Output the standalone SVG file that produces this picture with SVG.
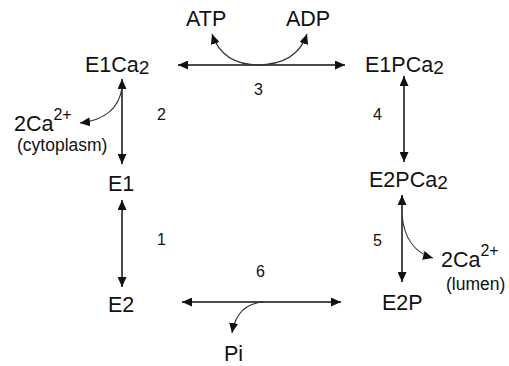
<svg xmlns="http://www.w3.org/2000/svg" width="509" height="366" viewBox="0 0 509 366">
<style>
text{font-family:"Liberation Sans",Arial,sans-serif;fill:#111}
.n{font-size:21.5px}
.sub{font-size:19px}
.sup{font-size:16px}
.lab{font-size:16px}
.sm{font-size:17.5px}
.ln{stroke:#111;stroke-width:1.5;fill:none}
.cv{stroke:#333;stroke-width:1.2;fill:none}
</style>
<defs>
<marker id="ah" markerUnits="userSpaceOnUse" markerWidth="11" markerHeight="9" refX="10" refY="4.5" orient="auto-start-reverse" viewBox="0 0 11 9">
<path d="M0,0 L10,4.5 L0,9 z" fill="#111"/>
</marker>
</defs>
<rect width="509" height="366" fill="#fff"/>
<g id="connectors">
<line class="ln" x1="178" y1="65" x2="345" y2="65" marker-start="url(#ah)" marker-end="url(#ah)"/>
<path class="cv" d="M259,65 C236,65 219,55 212,34" marker-end="url(#ah)"/>
<path class="cv" d="M257,65 C283,65 300,55 307,34" marker-end="url(#ah)"/>
<line class="ln" x1="122" y1="79" x2="122" y2="164" marker-start="url(#ah)" marker-end="url(#ah)"/>
<path class="cv" d="M122,88 C119,108 105,120 80,123" marker-end="url(#ah)"/>
<line class="ln" x1="122" y1="200" x2="122" y2="287" marker-start="url(#ah)" marker-end="url(#ah)"/>
<line class="ln" x1="404" y1="76" x2="404" y2="162" marker-start="url(#ah)" marker-end="url(#ah)"/>
<line class="ln" x1="402" y1="195" x2="402" y2="282" marker-start="url(#ah)" marker-end="url(#ah)"/>
<path class="cv" d="M402,215 C404,238 415,253 433,258" marker-end="url(#ah)"/>
<line class="ln" x1="182" y1="302" x2="341" y2="302" marker-start="url(#ah)" marker-end="url(#ah)"/>
<path class="cv" d="M264,302 C245,303 235,315 232,333" marker-end="url(#ah)"/>
</g>
<g id="E1Ca2"><text class="n" x="85" y="72">E1Ca<tspan class="sub" dy="2">2</tspan></text></g>
<g id="E1PCa2"><text class="n" x="365" y="72">E1PCa<tspan class="sub" dy="2">2</tspan></text></g>
<g id="E1"><text class="n" x="108" y="191">E1</text></g>
<g id="E2PCa2"><text class="n" x="369" y="187">E2PCa<tspan class="sub" dy="2">2</tspan></text></g>
<g id="E2"><text class="n" x="108" y="312">E2</text></g>
<g id="E2P"><text class="n" x="382" y="310">E2P</text></g>
<g id="ATP"><text class="n" x="186" y="26">ATP</text></g>
<g id="ADP"><text class="n" x="286" y="26">ADP</text></g>
<g id="Pi"><text class="n" x="224" y="361">Pi</text></g>
<g id="Ca-cyto"><text class="n" x="14" y="131">2Ca<tspan class="sup" dy="-11">2+</tspan></text><text class="sm" x="17" y="151">(cytoplasm)</text></g>
<g id="Ca-lumen"><text class="n" x="441" y="267">2Ca<tspan class="sup" dy="-11">2+</tspan></text><text class="sm" x="446" y="290">(lumen)</text></g>
<g id="labels">
<text class="lab" x="157" y="120">2</text>
<text class="lab" x="254" y="95">3</text>
<text class="lab" x="373" y="120">4</text>
<text class="lab" x="157" y="245">1</text>
<text class="lab" x="373" y="246">5</text>
<text class="lab" x="256" y="277">6</text>
</g>
</svg>
